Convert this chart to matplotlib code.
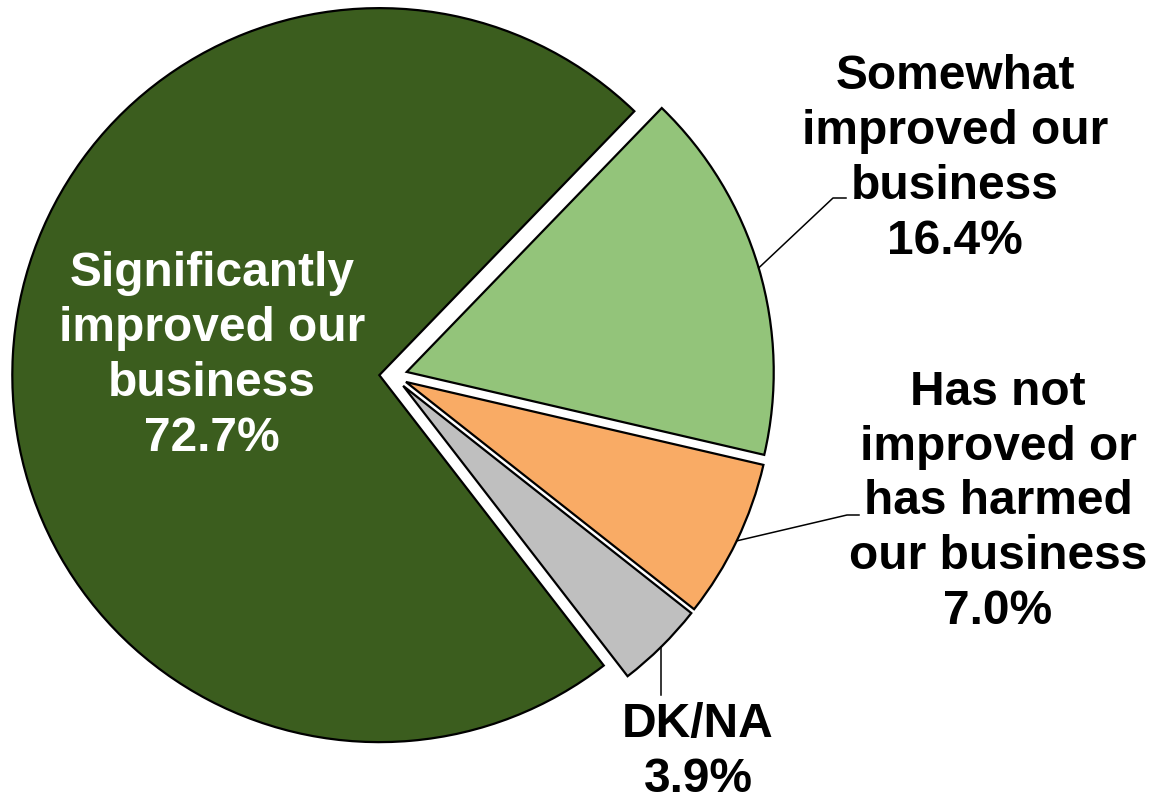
import numpy as np
import matplotlib.pyplot as plt

# data
labels = ["Significantly\nimproved our\nbusiness",
          "Somewhat\nimproved our\nbusiness",
          "Has not\nimproved or\nhas harmed\nour business",
          "DK/NA"]
shares = [72.7, 16.4, 7.0, 3.9]
colors = ["#3B5D1E", "#93C47A", "#F9AB65", "#BFBFBF"]
text_colors = ["white", "black", "black", "black"]

# layout (axes units = pixels, y up)
W, H = 1152, 801
center = (393.3, 425.1)
radius = 367
gap = 14
label_pos = [(212, 445), (955, 642), (998, 299), (698, 49)]
# elbow and end of the leader lines (None for the inside label)
leaders = [None, [(833, 603), (846, 603)], [(847, 286), (859, 286)], [(None, 106)]]

fig = plt.figure(figsize=(W / 100, H / 100), dpi=100)
ax = fig.add_axes([0, 0, 1, 1])

wedges, _ = ax.pie(shares, colors=colors, startangle=307.7, counterclock=False,
                   radius=radius, center=center, explode=[gap] * len(shares),
                   wedgeprops=dict(edgecolor="black", linewidth=1.6))
ax.set_xlim(0, W)
ax.set_ylim(0, H)
ax.axis("off")

for w, lab, val, (tx, ty), tc, pts in zip(wedges, labels, shares, label_pos,
                                          text_colors, leaders):
    ax.text(tx, ty, f"{lab}\n{val:.1f}%", ha="center", va="center",
            fontsize=34.5, fontweight="bold", family="Liberation Sans",
            color=tc, linespacing=1.28)
    if pts is None:
        continue
    # leader starts on the arc at the middle of the slice
    mid = np.deg2rad((w.theta1 + w.theta2) / 2)
    sx = w.center[0] + w.r * np.cos(mid)
    sy = w.center[1] + w.r * np.sin(mid)
    xs, ys = [sx], [sy]
    for px, py in pts:
        xs.append(sx if px is None else px)
        ys.append(py)
    ax.plot(xs, ys, color="black", lw=1.1)

fig.savefig("out.png", dpi=100, facecolor="white")
